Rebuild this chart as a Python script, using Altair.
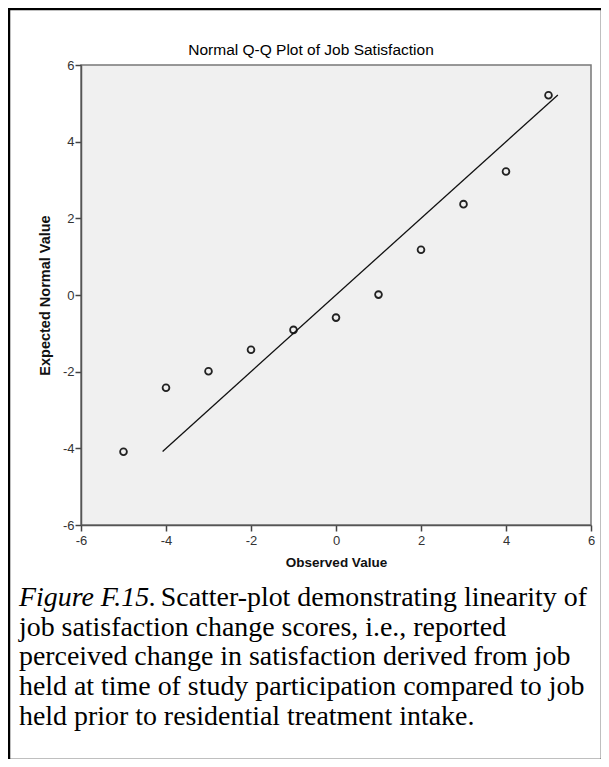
import altair as alt
import pandas as pd

# ---- data ----
observed = [-5, -4, -3, -2, -1, 0, 1, 2, 3, 4, 5]
expected = [-4.09, -2.42, -1.99, -1.43, -0.91, -0.59, 0.01, 1.18, 2.37, 3.22, 5.21]
ref_line = [-4.08, 5.22]          # y = x reference line end points
ticks = [-6, -4, -2, 0, 2, 4, 6]

chart_title = "Normal Q-Q Plot of Job Satisfaction"
x_title = "Observed Value"
y_title = "Expected Normal Value"
caption_italic = "Figure F.15."
caption_lines = [
    " Scatter-plot demonstrating linearity of",
    "job satisfaction change scores, i.e., reported",
    "perceived change in satisfaction derived from job",
    "held at time of study participation compared to job",
    "held prior to residential treatment intake.",
]

W, H = 510, 460
pts = pd.DataFrame({"x": observed, "y": expected})
ln = pd.DataFrame({"x": ref_line, "y": ref_line})

tick_font = "Liberation Sans Narrow, Arial Narrow, Liberation Sans, sans-serif"

xs = alt.Scale(domain=[-6, 6], nice=False, zero=False)
ys = alt.Scale(domain=[-6, 6], nice=False, zero=False)

x_axis = alt.Axis(values=ticks, labelExpr="'' + datum.value", grid=False, title=x_title,
                  titleFont="Liberation Sans", titleFontSize=13.5, titleFontWeight="bold",
                  titleColor="#111", titlePadding=8,
                  labelFont=tick_font, labelFontSize=13, labelColor="#333",
                  labelPadding=3, tickSize=6, tickColor="#444", domainColor="#555",
                  domainWidth=1.5, tickWidth=1.5, labelFlush=False)
y_axis = alt.Axis(values=ticks, labelExpr="'' + datum.value", grid=False, title=y_title,
                  titleFont="Liberation Sans", titleFontSize=14.5, titleFontWeight="bold",
                  titleColor="#111", titlePadding=10,
                  labelFont=tick_font, labelFontSize=13, labelColor="#333",
                  labelPadding=1, tickSize=6, tickColor="#444", domainColor="#555",
                  domainWidth=1.5, tickWidth=1.5, labelFlush=False)

points = alt.Chart(pts).mark_point(
    shape="circle", filled=False, size=46, stroke="#222", strokeWidth=1.8, opacity=1
).encode(
    x=alt.X("x:Q", scale=xs, axis=x_axis),
    y=alt.Y("y:Q", scale=ys, axis=y_axis),
)

line = alt.Chart(ln).mark_line(color="#111", strokeWidth=1.3).encode(
    x=alt.X("x:Q", scale=xs), y=alt.Y("y:Q", scale=ys)
)

one = alt.Data(values=[{"a": 1}])

title_mark = alt.Chart(one).mark_text(
    text=chart_title, font="Liberation Sans", fontSize=15.5, color="#000",
    align="center", baseline="alphabetic"
).encode(x=alt.value(230), y=alt.value(-10))

frame = alt.Chart(one).mark_rect(
    fill=None, stroke="#000", strokeWidth=2.5
).encode(x=alt.value(-72), x2=alt.value(521), y=alt.value(-56), y2=alt.value(695))

cap_size = 27.9
cap_x = -62
italic_w = 5.083 * cap_size
cap_layers = [
    alt.Chart(one).mark_text(
        text=caption_italic, font="Liberation Serif", fontSize=cap_size,
        fontStyle="italic", color="#000", align="left", baseline="alphabetic"
    ).encode(x=alt.value(cap_x), y=alt.value(541))
]
for i, txt in enumerate(caption_lines):
    cap_layers.append(
        alt.Chart(one).mark_text(
            text=txt, font="Liberation Serif", fontSize=cap_size, color="#000",
            align="left", baseline="alphabetic"
        ).encode(x=alt.value(cap_x + (italic_w if i == 0 else 0)),
                 y=alt.value(541 + i * 29.7))
    )

chart = alt.layer(points, line, title_mark, frame, *cap_layers).properties(
    width=W, height=H,
    autosize=alt.AutoSizeParams(type="none"),
    padding={"left": 73, "top": 57, "right": 10, "bottom": 234},
    background="#ffffff",
).configure_view(
    fill="#f0f0f0", stroke="#777", strokeWidth=1.5
)

chart.save("out.html", embed_options={"renderer": "svg", "actions": False})
